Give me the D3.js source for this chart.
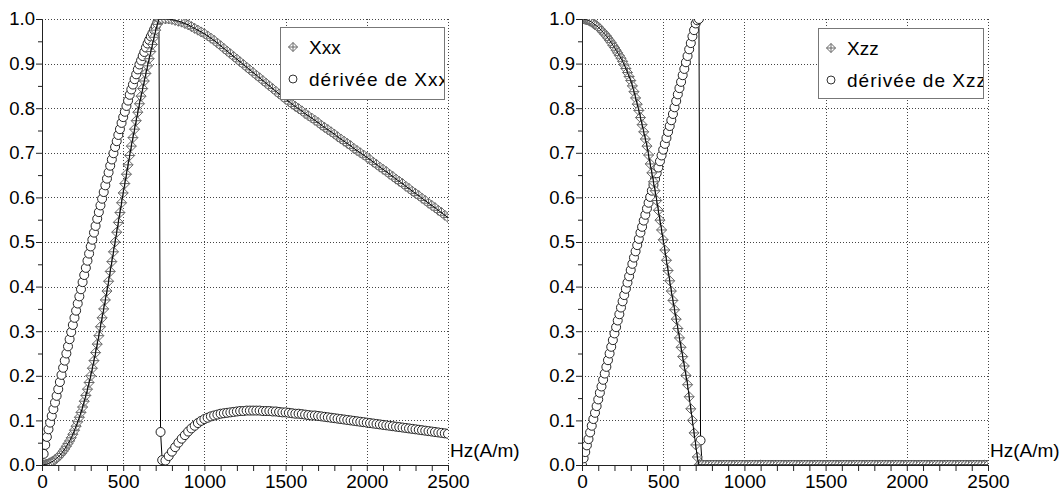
<!DOCTYPE html>
<html><head><meta charset="utf-8">
<script src="https://cdn.jsdelivr.net/npm/d3@7"></script>
<style>
html,body{margin:0;padding:0;background:#fff;}
svg{display:block;font-family:"Liberation Sans",Arial,Helvetica,sans-serif;}
</style></head><body>
<svg id="chart" width="1061" height="500"></svg>
<script>
// ---- data ----
const H = [0,10,20,30,40,50,60,70,80,90,100,110,120,130,140,150,160,170,180,190,200,210,220,230,240,250,260,270,280,290,300,310,320,330,340,350,360,370,380,390,400,410,420,430,440,450,460,470,480,490,500,510,520,530,540,550,560,570,580,590,600,610,620,630,640,650,660,670,680,690,700,710,720,730,740,
760,780,800,820,840,860,880,900,920,940,960,980,1000,1020,1040,1060,1080,1100,1120,1140,1160,1180,1200,1220,1240,1260,1280,1300,1320,1340,1360,1380,1400,1420,1440,1460,1480,1500,1520,1540,1560,1580,1600,1620,1640,1660,1680,1700,1720,1740,1760,1780,1800,1820,1840,1860,1880,1900,1920,1940,1960,1980,2000,2020,2040,2060,2080,2100,2120,2140,2160,2180,2200,2220,2240,2260,2280,2300,2320,2340,2360,2380,2400,2420,2440,2460,2480,2500];

const Xxx = [0,0,0.001,0.002,0.003,0.005,0.007,0.009,0.012,0.015,0.018,0.022,0.026,0.031,0.036,0.042,0.048,0.054,0.061,0.069,0.078,0.087,0.097,0.107,0.118,0.13,0.143,0.156,0.17,0.185,0.2,0.217,0.234,0.252,0.271,0.29,0.31,0.33,0.35,0.37,0.39,0.412,0.434,0.456,0.478,0.5,0.522,0.544,0.566,0.588,0.61,0.631,0.652,0.673,0.694,0.715,0.734,0.753,0.772,0.791,0.81,0.827,0.844,0.861,0.878,0.895,0.911,0.927,0.943,0.959,0.975,0.988,1.0,1.0,1.0,
1.0,1.0,0.999,0.997,0.995,0.993,0.99,0.987,0.983,0.979,0.975,0.971,0.967,0.962,0.957,0.952,0.946,0.94,0.934,0.928,0.922,0.916,0.91,0.904,0.898,0.892,0.886,0.88,0.874,0.868,0.862,0.856,0.85,0.844,0.838,0.832,0.826,0.82,0.815,0.809,0.804,0.799,0.794,0.788,0.783,0.778,0.773,0.768,0.762,0.757,0.752,0.747,0.742,0.736,0.731,0.726,0.721,0.716,0.71,0.705,0.7,0.695,0.69,0.685,0.679,0.674,0.668,0.663,0.658,0.652,0.647,0.641,0.636,0.631,0.625,0.62,0.614,0.609,0.604,0.598,0.593,0.587,0.582,0.577,0.571,0.566,0.56,0.555];

const dXxx = [0,0.025,0.045,0.063,0.08,0.095,0.11,0.125,0.14,0.155,0.17,0.186,0.202,0.218,0.234,0.25,0.266,0.282,0.298,0.314,0.33,0.346,0.362,0.378,0.394,0.41,0.426,0.442,0.458,0.474,0.49,0.505,0.521,0.536,0.552,0.567,0.582,0.597,0.612,0.627,0.642,0.656,0.671,0.685,0.699,0.713,0.726,0.74,0.753,0.767,0.78,0.792,0.805,0.817,0.83,0.842,0.853,0.865,0.876,0.887,0.898,0.907,0.917,0.926,0.936,0.945,0.953,0.961,0.968,0.976,0.984,0.992,1.0,0.074,0.011,
0.01,0.02,0.03,0.04,0.05,0.059,0.067,0.075,0.082,0.088,0.094,0.099,0.103,0.106,0.109,0.111,0.113,0.115,0.116,0.117,0.118,0.119,0.12,0.121,0.121,0.122,0.122,0.122,0.122,0.122,0.121,0.121,0.121,0.12,0.12,0.119,0.118,0.118,0.117,0.116,0.115,0.115,0.114,0.113,0.112,0.111,0.111,0.11,0.109,0.108,0.107,0.106,0.105,0.104,0.103,0.102,0.101,0.1,0.099,0.098,0.097,0.096,0.095,0.094,0.093,0.092,0.091,0.09,0.089,0.088,0.087,0.086,0.085,0.084,0.083,0.082,0.081,0.08,0.079,0.078,0.077,0.076,0.075,0.074,0.073,0.072,0.071,0.07];

const Xzz = [1.0,1.0,0.999,0.998,0.997,0.995,0.993,0.99,0.987,0.985,0.982,0.978,0.974,0.97,0.966,0.962,0.957,0.952,0.947,0.941,0.936,0.93,0.924,0.918,0.912,0.905,0.897,0.889,0.88,0.871,0.862,0.85,0.837,0.823,0.809,0.795,0.779,0.763,0.747,0.731,0.715,0.695,0.675,0.655,0.635,0.615,0.593,0.571,0.549,0.527,0.505,0.482,0.459,0.436,0.413,0.39,0.369,0.348,0.327,0.306,0.285,0.264,0.243,0.222,0.201,0.18,0.153,0.126,0.1,0.072,0.045,0.018,0,0,0,
0,0,0,0,0,0,0,0,0,0,0,0,0,0,0,0,0,0,0,0,0,0,0,0,0,0,0,0,0,0,0,0,0,0,0,0,0,0,0,0,0,0,0,0,0,0,0,0,0,0,0,0,0,0,0,0,0,0,0,0,0,0,0,0,0,0,0,0,0,0,0,0,0,0,0,0,0,0,0,0,0,0,0,0,0,0,0,0];

const dXzz = [0,0.015,0.029,0.044,0.058,0.073,0.088,0.103,0.117,0.132,0.147,0.162,0.176,0.191,0.205,0.22,0.235,0.25,0.265,0.28,0.295,0.309,0.324,0.338,0.353,0.367,0.381,0.395,0.409,0.423,0.437,0.451,0.465,0.479,0.493,0.507,0.521,0.534,0.548,0.561,0.575,0.588,0.601,0.615,0.628,0.641,0.654,0.667,0.681,0.694,0.707,0.72,0.733,0.747,0.76,0.773,0.787,0.802,0.816,0.831,0.845,0.859,0.874,0.888,0.903,0.917,0.932,0.946,0.961,0.975,0.99,0.997,1.0,0.055,0,
0,0,0,0,0,0,0,0,0,0,0,0,0,0,0,0,0,0,0,0,0,0,0,0,0,0,0,0,0,0,0,0,0,0,0,0,0,0,0,0,0,0,0,0,0,0,0,0,0,0,0,0,0,0,0,0,0,0,0,0,0,0,0,0,0,0,0,0,0,0,0,0,0,0,0,0,0,0,0,0,0,0,0,0,0,0,0,0];

const xTicks = [0,500,1000,1500,2000,2500];
const xMinor = [100,200,300,400,600,700,800,900,1100,1200,1300,1400,1600,1700,1800,1900,2100,2200,2300,2400];
const yTicks = [0,0.1,0.2,0.3,0.4,0.5,0.6,0.7,0.8,0.9,1.0];
const yMinor = [0.05,0.15,0.25,0.35,0.45,0.55,0.65,0.75,0.85,0.95];
const axisTitle = "Hz(A/m)";

const panels = [
  {x0:42, main:Xxx, deriv:dXxx, names:["Xxx","dérivée de Xxx"], legend:{x:280,y:27,w:164,h:72}},
  {x0:582, main:Xzz, deriv:dXzz, names:["Xzz","dérivée de Xzz"], legend:{x:818,y:28,w:165,h:70}}
];

// ---- drawing ----
const svg = d3.select("#chart");
const PW = 406, PT = 19, PB = 465;
const diamondPath = r => `M0,${-r}L${r},0L0,${r}L${-r},0Z M${-r},0L${r},0 M0,${-r}L0,${r}`;

panels.forEach((p, i) => {
  const x = d3.scaleLinear().domain([0,2500]).range([p.x0, p.x0 + PW]);
  const y = d3.scaleLinear().domain([0,1]).range([PB, PT]);
  const g = svg.append("g");

  const clipId = "clip" + i;
  svg.append("clipPath").attr("id", clipId).append("rect")
    .attr("x", p.x0).attr("y", PT).attr("width", PW).attr("height", PB - PT);

  // grid
  const grid = g.append("g").attr("stroke", "#444").attr("stroke-width", 1).attr("stroke-dasharray", "1,2");
  grid.selectAll("line.v").data(xTicks.slice(1)).join("line")
    .attr("x1", d => Math.round(x(d)) + 0.5).attr("x2", d => Math.round(x(d)) + 0.5)
    .attr("y1", PT).attr("y2", PB);
  grid.selectAll("line.h").data(yTicks.slice(1)).join("line")
    .attr("y1", d => Math.round(y(d)) + 0.5).attr("y2", d => Math.round(y(d)) + 0.5)
    .attr("x1", p.x0).attr("x2", p.x0 + PW);

  // data
  const pts = H.map((h, k) => ({h, m: p.main[k], d: p.deriv[k]}));
  const data = g.append("g").attr("clip-path", `url(#${clipId})`);
  data.append("path").datum(pts)
    .attr("d", d3.line().x(d => x(d.h)).y(d => y(d.d)))
    .attr("fill", "none").attr("stroke", "#000").attr("stroke-width", 1);
  data.selectAll("circle").data(pts).join("circle")
    .attr("cx", d => x(d.h)).attr("cy", d => y(d.d)).attr("r", 4.5)
    .attr("fill", "#fff").attr("stroke", "#222").attr("stroke-width", 1);
  data.selectAll("path.dm").data(pts).join("path").attr("class", "dm")
    .attr("transform", d => `translate(${x(d.h)},${y(d.m)})`)
    .attr("d", diamondPath(5))
    .attr("fill", "#fff").attr("stroke", "#666").attr("stroke-width", 1);
  data.append("path").datum(pts)
    .attr("d", d3.line().x(d => x(d.h)).y(d => y(d.m)))
    .attr("fill", "none").attr("stroke", "#000").attr("stroke-width", 1);

  // axes
  const xa = g.append("g").attr("transform", `translate(0,${PB})`)
    .call(d3.axisBottom(x).tickValues(xTicks).tickSize(6).tickSizeOuter(0).tickFormat(d3.format("d")));
  xa.selectAll("text").attr("font-size", 19).attr("fill", "#000").attr("dy", "0.78em").attr("y", 8)
    .attr("font-family", "Liberation Sans, Arial, sans-serif");
  g.append("g").attr("transform", `translate(0,${PB})`)
    .call(d3.axisBottom(x).tickValues(xMinor).tickSize(6).tickSizeOuter(0).tickFormat(""))
    .select(".domain").remove();

  const ya = g.append("g").attr("transform", `translate(${p.x0},0)`)
    .call(d3.axisLeft(y).tickValues(yTicks).tickSize(6).tickSizeOuter(0).tickFormat(d3.format(".1f")));
  ya.selectAll("text").attr("font-size", 18.5).attr("fill", "#000").attr("x", -7)
    .attr("font-family", "Liberation Sans, Arial, sans-serif");
  g.append("g").attr("transform", `translate(${p.x0},0)`)
    .call(d3.axisLeft(y).tickValues(yMinor).tickSize(4).tickSizeOuter(0).tickFormat(""))
    .select(".domain").remove();
  g.selectAll(".domain, .tick line").attr("stroke", "#222");

  // axis title
  g.append("text").attr("x", p.x0 + PW + 2).attr("y", PB - 8)
    .attr("font-size", 19).attr("fill", "#000").text(axisTitle);

  // legend
  const L = p.legend;
  const lclip = "lclip" + i;
  svg.append("clipPath").attr("id", lclip).append("rect")
    .attr("x", L.x).attr("y", L.y).attr("width", L.w).attr("height", L.h);
  const lg = g.append("g");
  lg.append("rect").attr("x", L.x + 0.5).attr("y", L.y + 0.5).attr("width", L.w).attr("height", L.h)
    .attr("fill", "#fff").attr("stroke", "#777");
  const lt = lg.append("g").attr("clip-path", `url(#${lclip})`);
  lt.append("path").attr("transform", `translate(${L.x + 13},${L.y + 20})`)
    .attr("d", diamondPath(4.5)).attr("fill", "#fff").attr("stroke", "#666");
  lt.append("circle").attr("cx", L.x + 13).attr("cy", L.y + 52).attr("r", 4)
    .attr("fill", "#fff").attr("stroke", "#333");
  lt.append("text").attr("x", L.x + 29).attr("y", L.y + 27).attr("font-size", 19).text(p.names[0]);
  lt.append("text").attr("x", L.x + 29).attr("y", L.y + 59).attr("font-size", 19)
    .attr("textLength", 139).attr("lengthAdjust", "spacing").text(p.names[1]);
});
</script>
</body></html>
